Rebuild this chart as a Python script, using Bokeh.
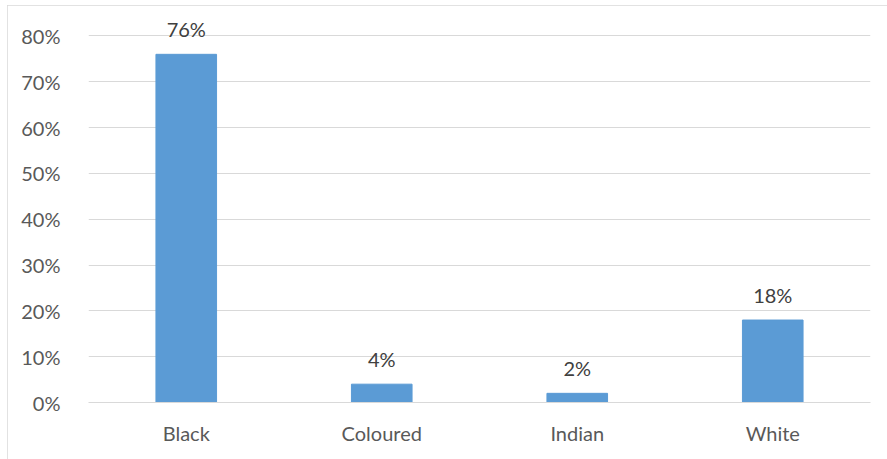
from bokeh.plotting import figure
from bokeh.models import ColumnDataSource, NumeralTickFormatter, FixedTicker, LabelSet
from bokeh.core.properties import value
from bokeh.embed import file_html
from bokeh.resources import INLINE

categories = ["Black", "Coloured", "Indian", "White"]
shares = [0.76, 0.04, 0.02, 0.18]
share_labels = ["76%", "4%", "2%", "18%"]
y_ticks = [0.0, 0.1, 0.2, 0.3, 0.4, 0.5, 0.6, 0.7, 0.8]

src = ColumnDataSource(dict(cat=categories, val=shares, lab=share_labels))

p = figure(x_range=categories, y_range=(0, 0.86), width=880, height=460,
           output_backend="svg", toolbar_location=None,
           min_border_left=81, min_border_right=17, min_border_top=3, min_border_bottom=63,
           margin=(5, 0, 0, 7),
           styles={"outline": "2px solid #d9d9d9", "outline-offset": "-2px"})
p.x_range.range_padding = 0
p.outline_line_color = None
p.background_fill_color = "white"
p.border_fill_color = "white"

p.vbar(x="cat", top="val", width=0.31, source=src, color="#5b9bd5")

labels = LabelSet(x="cat", y="val", text="lab", source=src, text_align="center",
                  text_baseline="bottom", y_offset=13, text_font=value("Lato"),
                  text_font_size="20px", text_color="#404040")
p.add_layout(labels)

p.yaxis.ticker = FixedTicker(ticks=y_ticks)
p.yaxis.formatter = NumeralTickFormatter(format="0%")
p.yaxis.axis_line_color = None
p.yaxis.major_tick_line_color = None
p.yaxis.minor_tick_line_color = None
p.yaxis.major_label_standoff = 22
p.yaxis.major_label_text_font = "Lato"
p.yaxis.major_label_text_font_size = "20px"
p.yaxis.major_label_text_color = "#595959"

p.xaxis.axis_line_color = "#d9d9d9"
p.xaxis.major_tick_line_color = None
p.xaxis.minor_tick_line_color = None
p.xaxis.major_label_standoff = 12
p.xaxis.major_label_text_font = "Lato"
p.xaxis.major_label_text_font_size = "20px"
p.xaxis.major_label_text_color = "#595959"

p.xgrid.grid_line_color = None
p.ygrid.grid_line_color = "#d9d9d9"
p.ygrid.grid_line_width = 1

open("out.html", "w").write(file_html(p, INLINE))
